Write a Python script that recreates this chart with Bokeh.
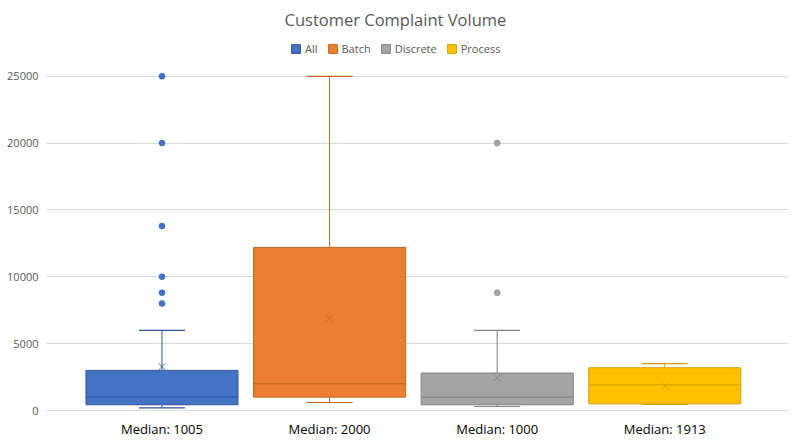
from bokeh.plotting import figure
from bokeh.models import (ColumnDataSource, Range1d, FixedTicker, Legend, LegendItem, Title)
from bokeh.embed import file_html
from bokeh.resources import INLINE

# ---- data ----
series = ["All", "Batch", "Discrete", "Process"]
q1 = [430, 1000, 430, 500]
median = [1005, 2000, 1000, 1913]
q3 = [3000, 12200, 2800, 3200]
whisker_low = [200, 600, 300, 450]
whisker_high = [6000, 25000, 6000, 3500]
mean = [3280, 6900, 2440, 1850]
outlier_series = [0, 0, 0, 0, 0, 0, 2, 2]
outlier_values = [25000, 20000, 13800, 10000, 8800, 8000, 20000, 8800]
y_ticks = [0, 5000, 10000, 15000, 20000, 25000]

fills = ["#4472C4", "#ED7D31", "#A5A5A5", "#FFC000"]
edges = ["#2F5597", "#C0651F", "#7F7F7F", "#D4A000"]

FONT = "Open Sans"
BOX_W = 0.907
CAP_W = 0.274
Y_TOP = 28050  # headroom inside the frame for the legend

xs = list(range(len(series)))
labels = ["Median: %d" % m for m in median]

p = figure(width=793, height=440, output_backend="svg", toolbar_location=None,
           x_range=Range1d(-0.689, len(series) - 1 + 0.738),
           y_range=Range1d(0, Y_TOP),
           min_border_left=46, min_border_right=5, min_border_top=0, min_border_bottom=0)
p.outline_line_color = None
p.background_fill_color = "white"
p.border_fill_color = "white"

box_src = ColumnDataSource(dict(
    left=[x - BOX_W / 2 for x in xs], right=[x + BOX_W / 2 for x in xs],
    top=q3, bottom=q1, fill=fills, edge=edges))
boxes = p.quad(left="left", right="right", top="top", bottom="bottom", source=box_src,
               fill_color="fill", line_color="edge", line_width=1)

med_src = ColumnDataSource(dict(x0=[x - BOX_W / 2 for x in xs], x1=[x + BOX_W / 2 for x in xs],
                                y=median, edge=edges))
p.segment(x0="x0", x1="x1", y0="y", y1="y", source=med_src, line_color="edge", line_width=1)

wh_src = ColumnDataSource(dict(x=xs, lo=whisker_low, hi=whisker_high, q1=q1, q3=q3,
                               c0=[x - CAP_W / 2 for x in xs], c1=[x + CAP_W / 2 for x in xs],
                               edge=edges))
p.segment(x0="x", x1="x", y0="q3", y1="hi", source=wh_src, line_color="edge", line_width=1)
p.segment(x0="x", x1="x", y0="q1", y1="lo", source=wh_src, line_color="edge", line_width=1)
p.segment(x0="c0", x1="c1", y0="hi", y1="hi", source=wh_src, line_color="edge", line_width=1.2)
p.segment(x0="c0", x1="c1", y0="lo", y1="lo", source=wh_src, line_color="edge", line_width=1.2)

mean_src = ColumnDataSource(dict(x=xs, y=mean, edge=edges))
p.scatter(x="x", y="y", source=mean_src, marker="x", size=10, line_color="edge", line_width=1,
          line_alpha=0.8)

out_src = ColumnDataSource(dict(x=[xs[i] for i in outlier_series], y=outlier_values,
                                fill=[fills[i] for i in outlier_series],
                                edge=[edges[i] for i in outlier_series]))
p.scatter(x="x", y="y", source=out_src, marker="circle", size=6, fill_color="fill",
          line_color="edge", line_width=0.5)

# axes
p.xaxis.ticker = FixedTicker(ticks=xs)
p.xaxis.major_label_overrides = {x: l for x, l in zip(xs, labels)}
p.xaxis.major_label_text_font = FONT
p.xaxis.major_label_text_font_size = "13px"
p.xaxis.major_label_text_color = "#000000"
p.xaxis.major_tick_line_color = None
p.xaxis.major_tick_out = 0
p.xaxis.major_tick_in = 0
p.xaxis.minor_tick_line_color = None
p.xaxis.minor_tick_out = 0
p.xaxis.axis_line_color = "#D9D9D9"
p.xaxis.major_label_standoff = 9

p.yaxis.ticker = FixedTicker(ticks=y_ticks)
p.yaxis.major_label_text_font = FONT
p.yaxis.major_label_text_font_size = "11px"
p.yaxis.major_label_text_color = "#595959"
p.yaxis.major_tick_line_color = None
p.yaxis.major_tick_out = 0
p.yaxis.major_tick_in = 0
p.yaxis.minor_tick_line_color = None
p.yaxis.minor_tick_out = 0
p.yaxis.axis_line_color = None
p.yaxis.major_label_standoff = 8

p.xgrid.grid_line_color = None
p.ygrid.ticker = FixedTicker(ticks=y_ticks)
p.ygrid.grid_line_color = "#D9D9D9"

legend = Legend(items=[LegendItem(label=s, renderers=[boxes], index=i) for i, s in enumerate(series)],
                orientation="horizontal", location=(244, 354),
                label_text_font=FONT, label_text_font_size="11px", label_text_color="#595959",
                glyph_width=11, glyph_height=11, label_height=11, label_width=10, label_standoff=4,
                spacing=9, padding=4, margin=0, border_line_color=None,
                background_fill_alpha=0)
p.add_layout(legend, "center")

p.title = Title(text="Customer Complaint Volume", align="left", text_font=FONT,
                text_font_size="16.5px", text_font_style="normal", text_color="#595959",
                standoff=10, offset=238)

open("out.html", "w").write(file_html(p, INLINE))
